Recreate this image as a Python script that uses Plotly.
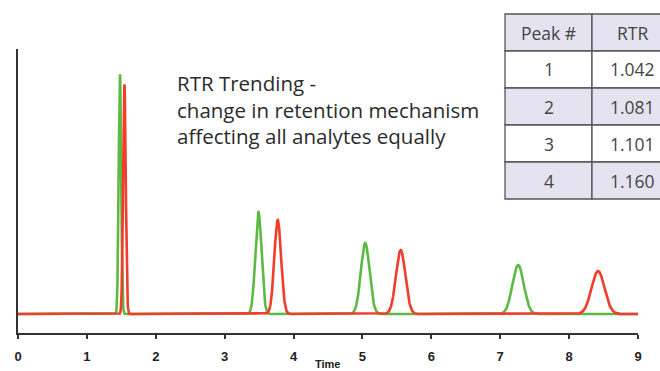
import numpy as np
import plotly.graph_objects as go

# ---- data ----
# green trace (original retention), red trace (shifted retention)
green_rt = [1.48, 3.49, 5.04, 7.26]
green_height = [240, 102, 71, 49]
green_width = [0.018, 0.045, 0.063, 0.082]

red_rt = [1.545, 3.77, 5.555, 8.42]
red_height = [230, 94, 64, 43]
red_width = [0.019, 0.049, 0.068, 0.094]

peak_numbers = ["1", "2", "3", "4"]
rtr_values = ["1.042", "1.081", "1.101", "1.160"]

x_ticks = [0, 1, 2, 3, 4, 5, 6, 7, 8, 9]
x_title = "Time"

# ---- figure geometry (pixels) ----
W, H = 660, 371
L, R, T, B = 18, 22, 49, 38
PW, PH = W - L - R, H - T - B


def px(xp):
    return (xp - L) / PW


def py(yp):
    return (H - B - yp) / PH


time = np.linspace(0, 9, 4000)


def trace_signal(rts, hs, ws):
    s = np.zeros_like(time)
    for c, h, w in zip(rts, hs, ws):
        s += h * np.exp(-0.5 * ((time - c) / w) ** 2)
    return s


fig = go.Figure()
fig.add_trace(go.Scatter(x=time, y=trace_signal(green_rt, green_height, green_width),
                         mode="lines", line=dict(color="#5cba43", width=2.6),
                         hoverinfo="skip", showlegend=False))
fig.add_trace(go.Scatter(x=time, y=trace_signal(red_rt, red_height, red_width),
                         mode="lines", line=dict(color="#f23c2c", width=2.6),
                         hoverinfo="skip", showlegend=False))

fig.update_xaxes(range=[0, 9], tickvals=x_ticks, ticktext=[str(v) for v in x_ticks],
                 showline=True, linecolor="#333333", linewidth=2,
                 ticks="outside", ticklen=4, tickwidth=1.5, tickcolor="#333333",
                 showgrid=False, zeroline=False, automargin=False,
                 tickfont=dict(family="Liberation Sans", size=13, color="#222222", weight="bold"),
                 ticklabelstandoff=6)
fig.update_yaxes(range=[-19, 265], showline=True, linecolor="#333333", linewidth=2,
                 showticklabels=False, ticks="", showgrid=False, zeroline=False,
                 automargin=False)

annotations = [
    dict(text="RTR Trending -<br>change in retention mechanism<br>affecting all analytes equally",
         xref="paper", yref="paper", x=px(175), y=py(67), xanchor="left", yanchor="top",
         align="left", showarrow=False,
         font=dict(family="Open Sans", size=20.5, color="#2b2b2b")),
    dict(text=x_title, xref="paper", yref="paper", x=px(327), y=py(371),
         xanchor="center", yanchor="bottom", showarrow=False, borderpad=0,
         font=dict(family="Liberation Sans", size=11, color="#222222", weight="bold")),
]

# ---- table (top right) ----
shapes = []
col_x = [505, 592, 672]
row_y = [14, 51, 88, 125, 162, 199]
headers = ["Peak #", "RTR"]
rows = [headers] + [[p, v] for p, v in zip(peak_numbers, rtr_values)]
for i, row in enumerate(rows):
    fill = "#e6e3f0" if i % 2 == 0 else "#ffffff"
    for j, txt in enumerate(row):
        shapes.append(dict(type="rect", xref="paper", yref="paper",
                           x0=px(col_x[j]), x1=px(col_x[j + 1]),
                           y0=py(row_y[i]), y1=py(row_y[i + 1]),
                           fillcolor=fill, line=dict(color="#555555", width=1.3),
                           layer="above"))
        annotations.append(dict(text=txt, xref="paper", yref="paper",
                                x=px((col_x[j] + col_x[j + 1]) / 2),
                                y=py((row_y[i] + row_y[i + 1]) / 2),
                                xanchor="center", yanchor="middle", showarrow=False,
                                font=dict(family="Open Sans", size=17.5, color="#444444")))

fig.update_layout(width=W, height=H, margin=dict(l=L, r=R, t=T, b=B, autoexpand=False),
                  paper_bgcolor="white", plot_bgcolor="white",
                  shapes=shapes, annotations=annotations)

fig.write_html("out.html")
